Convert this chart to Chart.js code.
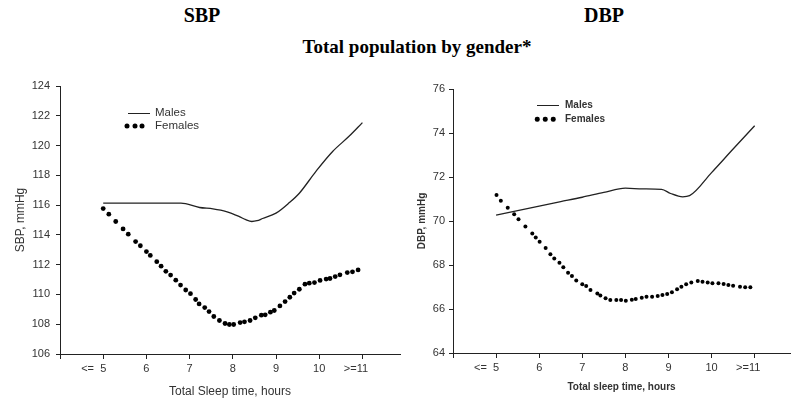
<!DOCTYPE html>
<html><head><meta charset="utf-8">
<script src="https://cdn.jsdelivr.net/npm/chart.js@4"></script>
<style>
html,body{margin:0;padding:0;background:#fff;}
body{width:794px;height:405px;position:relative;overflow:hidden;}
canvas{position:absolute;top:0;}
.t{position:absolute;transform:translate(-50%,-50%);font-family:'Liberation Serif','Times New Roman',serif;font-weight:bold;color:#000;white-space:nowrap;line-height:1;}
.lt{position:absolute;transform:translateY(-50%);font-family:'Liberation Sans Narrow','Arial Narrow','Liberation Sans',Arial,sans-serif;color:#333;font-size:11.5px;line-height:1;white-space:nowrap;}
.ll{position:absolute;height:0;border-top:1.3px solid #222;}
.ld{position:absolute;border-radius:50%;background:#000;transform:translate(-50%,-50%);}
</style>
</head><body>
<div class="t" style="left:202px;top:15px;font-size:20px">SBP</div>
<div class="t" style="left:604px;top:15px;font-size:20px">DBP</div>
<div class="t" style="left:417px;top:46px;font-size:19px">Total population by gender*</div>
<canvas id="c1" width="404" height="405" style="left:0;width:404px;height:405px"></canvas>
<canvas id="c2" width="390" height="405" style="left:404px;width:390px;height:405px"></canvas>

<div class="ll" style="left:128px;top:113px;width:22px"></div>
<div class="lt" style="left:155px;top:113px">Males</div>
<div class="ld" style="left:127px;top:126px;width:5px;height:5px"></div>
<div class="ld" style="left:134.5px;top:126px;width:5px;height:5px"></div>
<div class="ld" style="left:142px;top:126px;width:5px;height:5px"></div>
<div class="lt" style="left:155px;top:126px">Females</div>

<div class="ll" style="left:537px;top:105px;width:22px"></div>
<div class="lt" style="left:565px;top:105px;font-weight:bold;font-size:10px">Males</div>
<div class="ld" style="left:537px;top:119px;width:4.5px;height:4.5px"></div>
<div class="ld" style="left:545px;top:119px;width:4.5px;height:4.5px"></div>
<div class="ld" style="left:553px;top:119px;width:4.5px;height:4.5px"></div>
<div class="lt" style="left:565px;top:119px;font-weight:bold;font-size:10px">Females</div>

<script>
// ---- data ----
const xTickValues = [4, 5, 6, 7, 8, 9, 10, 11];
const xTickLabels = ['', '<=  5', '6', '7', '8', '9', '10', '>=11'];
const sbpTicks = [106, 108, 110, 112, 114, 116, 118, 120, 122, 124];
const dbpTicks = [64, 66, 68, 70, 72, 74, 76];

const mSbpH = [5, 5.5, 6, 6.5, 6.8, 7.23, 7.54, 7.85, 8.15, 8.3, 8.44, 8.56, 8.69, 9.0, 9.31, 9.54, 9.92, 10.31, 10.69, 11];
const mSbpV = [116.13, 116.13, 116.13, 116.13, 116.13, 115.84, 115.75, 115.57, 115.23, 115.02, 114.9, 114.95, 115.1, 115.46, 116.17, 116.8, 118.25, 119.6, 120.62, 121.54];

const fSbpH = [5.00,5.13,5.29,5.46,5.58,5.75,5.86,6.00,6.09,6.24,6.34,6.45,6.56,6.68,6.79,6.91,7.02,7.14,7.22,7.35,7.45,7.56,7.69,7.82,7.92,8.02,8.17,8.27,8.40,8.52,8.66,8.75,8.87,8.96,9.09,9.21,9.32,9.42,9.54,9.67,9.77,9.89,10.02,10.16,10.25,10.37,10.48,10.65,10.77,10.90];
const fSbpV = [115.77,115.39,114.9,114.4,114.05,113.55,113.27,112.88,112.62,112.2,111.9,111.55,111.3,110.96,110.63,110.3,110.05,109.66,109.36,109.12,108.85,108.52,108.25,108.05,107.98,107.98,108.11,108.16,108.25,108.43,108.61,108.63,108.81,108.92,109.23,109.52,109.81,110.09,110.35,110.69,110.76,110.8,110.94,111.03,111.07,111.2,111.32,111.47,111.52,111.65];

const mDbpH = [5, 5.5, 6, 6.5, 7, 7.5, 8, 8.4, 8.84, 9.05, 9.33, 9.49, 10, 10.5, 11];
const mDbpV = [70.27, 70.47, 70.68, 70.88, 71.08, 71.3, 71.49, 71.46, 71.44, 71.25, 71.1, 71.15, 72.2, 73.27, 74.33];

const fDbpH = [5.01,5.11,5.27,5.42,5.52,5.68,5.84,5.92,6.01,6.15,6.26,6.35,6.47,6.56,6.67,6.76,6.86,7.0,7.09,7.19,7.35,7.42,7.54,7.65,7.79,7.9,8.01,8.15,8.24,8.38,8.49,8.62,8.75,8.86,8.97,9.08,9.2,9.3,9.41,9.53,9.68,9.79,9.91,10.02,10.16,10.28,10.39,10.5,10.66,10.78,10.9];
const fDbpV = [71.18,70.92,70.6,70.31,70.08,69.75,69.43,69.25,69.06,68.77,68.49,68.3,68.1,67.9,67.65,67.5,67.29,67.12,67.05,66.86,66.71,66.61,66.49,66.41,66.41,66.41,66.38,66.42,66.45,66.51,66.56,66.56,66.59,66.64,66.68,66.76,66.9,67.01,67.12,67.2,67.27,67.24,67.2,67.17,67.17,67.14,67.09,67.06,67.01,66.99,66.99];

// ---- rendering ----
const NARROW = "'Liberation Sans Narrow','Arial Narrow','Liberation Sans',Arial,sans-serif";
const pts = (h, v) => h.map((x, i) => ({x, y: v[i]}));

const prefixPlugin = {
  id: 'prefix',
  afterDraw(chart) {
    const sc = chart.scales.x;
    const ctx = chart.ctx;
    const items = sc.getLabelItems();
    ctx.save();
    items.forEach((it, i) => {
      const full = xTickLabels[xTickValues.indexOf(sc.ticks[i].value)] || '';
      const m = full.match(/^([<>]=\s*)(.*)$/);
      if (!m) return;
      ctx.font = it.font.string;
      ctx.fillStyle = it.options.color;
      ctx.textBaseline = it.options.textBaseline;
      ctx.textAlign = 'right';
      const w = ctx.measureText(m[2]).width;
      const [tx, ty] = it.options.translation;
      ctx.fillText(m[1], tx - w / 2, ty + it.textOffset);
    });
    ctx.restore();
  }
};

function make(id, cfg) {
  const bold = cfg.bold ? 'bold' : 'normal';
  return new Chart(document.getElementById(id), {
    type: 'line',
    data: {
      datasets: [
        {label: 'Males', data: pts(cfg.mH, cfg.mV), borderColor: '#222', borderWidth: 1.3,
         pointRadius: 0, cubicInterpolationMode: 'monotone', fill: false},
        {label: 'Females', data: pts(cfg.fH, cfg.fV), showLine: false, pointRadius: cfg.r,
         pointBackgroundColor: '#000', pointBorderWidth: 0, borderColor: '#000'}
      ]
    },
    options: {
      responsive: false, animation: false, devicePixelRatio: 1,
      layout: {padding: {top: cfg.top, right: cfg.right, left: 0, bottom: 0}},
      plugins: {legend: {display: false}, tooltip: {enabled: false}, title: {display: false}},
      scales: {
        x: {
          type: 'linear', min: 4, max: cfg.xmax,
          afterBuildTicks: s => { s.ticks = xTickValues.map(v => ({value: v})); },
          afterFit: s => { s.height = cfg.xh; },
          ticks: {
            autoSkip: false, maxRotation: 0, padding: 3, color: '#333',
            font: {family: NARROW, size: cfg.tickSize},
            callback: v => (xTickLabels[xTickValues.indexOf(v)] || '').replace(/^[<>]=\s*/, '')
          },
          grid: {display: true, drawOnChartArea: false, drawTicks: true, tickLength: 5, color: '#222'},
          border: {display: true, color: '#222', width: 1},
          title: {display: true, text: cfg.xTitle, color: '#333',
                  font: {family: NARROW, size: cfg.titleSize, weight: bold}, padding: {top: 0, bottom: cfg.xtp}}
        },
        y: {
          min: cfg.ticks[0], max: cfg.ticks[cfg.ticks.length - 1],
          afterBuildTicks: s => { s.ticks = cfg.ticks.map(v => ({value: v})); },
          afterFit: s => { s.width = cfg.yw; },
          ticks: {padding: cfg.ypad, color: '#333', font: {family: NARROW, size: cfg.tickSize}},
          grid: {display: true, drawOnChartArea: false, drawTicks: true, tickLength: 4, color: '#222'},
          border: {display: true, color: '#222', width: 1},
          title: {display: true, text: cfg.yTitle, color: '#333',
                  font: {family: NARROW, size: cfg.titleSize, weight: bold}, padding: {top: cfg.ytp, bottom: 0}}
        }
      }
    },
    plugins: [prefixPlugin]
  });
}

make('c1', {mH: mSbpH, mV: mSbpV, fH: fSbpH, fV: fSbpV, r: 2.4, ticks: sbpTicks,
  top: 86, right: 3, xmax: 11.87, xh: 51, yw: 60, ypad: 6, xtp: 6, ytp: 13,
  tickSize: 11, titleSize: 12,
  xTitle: 'Total Sleep time, hours', yTitle: 'SBP, mmHg', bold: false});
make('c2', {mH: mDbpH, mV: mDbpV, fH: fDbpH, fV: fDbpV, r: 2.0, ticks: dbpTicks,
  top: 89, right: 0, xmax: 11.82, xh: 52, yw: 49, ypad: 4, xtp: 12, ytp: 12,
  tickSize: 11, titleSize: 10,
  xTitle: 'Total sleep time, hours', yTitle: 'DBP, mmHg', bold: true});
</script>
</body></html>
